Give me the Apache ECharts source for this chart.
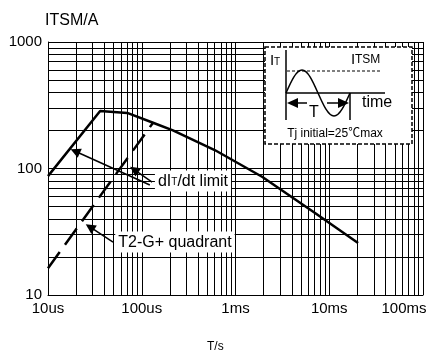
<!DOCTYPE html>
<html>
<head>
<meta charset="utf-8">
<script src="https://cdn.jsdelivr.net/npm/echarts@6/dist/echarts.min.js"></script>
<style>
  html, body { margin: 0; padding: 0; background: #fff; }
  #chart { width: 430px; height: 354px; }
</style>
</head>
<body>
<div id="chart"></div>
<script>
// Non-repetitive surge current ITSM versus pulse width T
const timeSec   = [1e-5, 3.6e-5, 7.0e-5, 1.32e-4, 2.15e-4, 6.0e-4, 1.92e-3, 7.05e-3, 2.03e-2];
const itsmLimit = [87, 285, 275, 230, 200, 140, 86, 44.5, 25.8];

// T2-G+ quadrant (dashed)
const quadrantTime = [1e-5, 1.32e-4];
const quadrantItsm = [16.3, 230];

// Axis labels, one per decade
const xTickLabels = ['10us', '100us', '1ms', '10ms', '100ms'];
const yTickLabels = ['10', '100', '1000'];

// Decades that get 2..9 minor grid lines
const xDecades = [1e-5, 1e-4, 1e-3, 1e-2];
const yDecades = [10, 100];
const minorSteps = [2, 3, 4, 5, 6, 7, 8, 9];

const X_MIN = 1e-5, X_MAX = 1e-1, Y_MIN = 10, Y_MAX = 1000;

const FONT = "'Liberation Sans', Arial, 'Noto Sans CJK SC', sans-serif";

const xMinor = [];
xDecades.forEach(d => minorSteps.forEach(k => xMinor.push(+(d * k).toPrecision(3))));
const yMinor = [];
yDecades.forEach(d => minorSteps.forEach(k => yMinor.push(d * k)));

const pairs = (xs, ys) => xs.map((x, i) => [x, ys[i]]);

const chart = echarts.init(document.getElementById('chart'), null, { renderer: 'canvas' });

const black = '#000';
const Z_TOP = 100;

// inset drawing elements, all sitting above the plot
const inset = [
  { type: 'rect', shape: { x: 0, y: 0, width: 147, height: 97 },
    style: { fill: '#fff', stroke: black, lineWidth: 1.5, lineDash: [4, 2] } },
  { type: 'line', shape: { x1: 21, y1: 3, x2: 21, y2: 73 },
    style: { stroke: black, lineWidth: 1.5 } },
  { type: 'line', shape: { x1: 85, y1: 46, x2: 85, y2: 73 },
    style: { stroke: black, lineWidth: 1.5 } },
  { type: 'line', shape: { x1: 21, y1: 46, x2: 120, y2: 46 },
    style: { stroke: black, lineWidth: 1.5 } },
  { type: 'line', shape: { x1: 22, y1: 24, x2: 117, y2: 24 },
    style: { stroke: black, lineWidth: 1.2, lineDash: [3, 2] } },
  { type: 'bezierCurve', shape: { x1: 21, y1: 46, cpx1: 26.22, cpy1: 34.22, cpx2: 31.21, cpy2: 23, x2: 37, y2: 23 },
    style: { stroke: black, lineWidth: 1.5, fill: null } },
  { type: 'bezierCurve', shape: { x1: 37, y1: 23, cpx1: 42.79, cpy1: 23, cpx2: 47.78, cpy2: 34.22, x2: 53, y2: 46 },
    style: { stroke: black, lineWidth: 1.5, fill: null } },
  { type: 'bezierCurve', shape: { x1: 53, y1: 46, cpx1: 58.22, cpy1: 57.78, cpx2: 63.21, cpy2: 69, x2: 69, y2: 69 },
    style: { stroke: black, lineWidth: 1.5, fill: null } },
  { type: 'bezierCurve', shape: { x1: 69, y1: 69, cpx1: 74.79, cpy1: 69, cpx2: 79.78, cpy2: 57.78, x2: 85, y2: 46 },
    style: { stroke: black, lineWidth: 1.5, fill: null } },
  // period arrows
  { type: 'polygon', shape: { points: [[22, 56], [33, 51], [33, 61]] }, style: { fill: black } },
  { type: 'line', shape: { x1: 33, y1: 56, x2: 42, y2: 56 }, style: { stroke: black, lineWidth: 1.5 } },
  { type: 'polygon', shape: { points: [[84, 56], [73, 51], [73, 61]] }, style: { fill: black } },
  { type: 'line', shape: { x1: 62, y1: 56, x2: 73, y2: 56 }, style: { stroke: black, lineWidth: 1.5 } },
  { type: 'text', style: { text: 'T', x: 49, y: 66, align: 'center', verticalAlign: 'middle',
      fill: black, fontSize: 16, fontFamily: FONT } },
  { type: 'text', style: { text: 'time', x: 97, y: 56, align: 'left', verticalAlign: 'middle',
      fill: black, fontSize: 16, fontFamily: FONT } },
  { type: 'text', style: { text: 'I', x: 5, y: 6, align: 'left', verticalAlign: 'top',
      fill: black, fontSize: 15, fontFamily: FONT } },
  { type: 'text', style: { text: 'T', x: 9, y: 10, align: 'left', verticalAlign: 'top',
      fill: black, fontSize: 10, fontFamily: FONT } },
  { type: 'text', style: { text: 'I', x: 86, y: 5, align: 'left', verticalAlign: 'top',
      fill: black, fontSize: 15, fontFamily: FONT } },
  { type: 'text', style: { text: 'TSM', x: 90, y: 7, align: 'left', verticalAlign: 'top',
      fill: black, fontSize: 12, fontFamily: FONT } },
  { type: 'text', style: { text: 'Tj initial=25℃max', x: 70, y: 87, align: 'center', verticalAlign: 'middle',
      fill: black, fontSize: 12, fontFamily: FONT } }
].map(el => Object.assign(el, { z: Z_TOP, silent: true }));

const lastXLabel = xTickLabels.length - 1;

const option = {
  animation: false,
  backgroundColor: '#fff',
  title: [
    { text: 'ITSM/A', left: 45, top: 13, padding: 0,
      textStyle: { color: black, fontSize: 16, fontWeight: 'normal', fontFamily: FONT } },
    { text: 'T/s', left: 207, top: 341, padding: 0,
      textStyle: { color: black, fontSize: 12, fontWeight: 'normal', fontFamily: FONT } }
  ],
  grid: { left: 48, right: 7, top: 42, bottom: 59, containLabel: false, outerBoundsMode: 'none' },
  xAxis: {
    type: 'log', logBase: 10, min: X_MIN, max: X_MAX,
    axisLine: { lineStyle: { color: black, width: 1 } },
    axisTick: { show: false },
    splitLine: { show: true, lineStyle: { color: black, width: 1 } },
    axisLabel: {
      color: black, fontSize: 15, fontFamily: FONT, margin: 6,
      formatter: v => {
        const i = Math.round(Math.log10(v)) + 5;
        // the last label is pushed left so it stays inside the canvas
        return i === lastXLabel ? xTickLabels[i] + '{pad| }' : xTickLabels[i];
      },
      rich: { pad: { width: 38, fontSize: 15 } }
    }
  },
  yAxis: {
    type: 'log', logBase: 10, min: Y_MIN, max: Y_MAX,
    axisLine: { lineStyle: { color: black, width: 1 } },
    axisTick: { show: false },
    splitLine: { show: true, lineStyle: { color: black, width: 1 } },
    axisLabel: {
      color: black, fontSize: 15, fontFamily: FONT, margin: 6,
      formatter: v => yTickLabels[Math.round(Math.log10(v)) - 1]
    }
  },
  series: [
    {
      // minor log grid
      name: 'grid', type: 'line', data: [], silent: true, z: 1,
      markLine: {
        silent: true, symbol: 'none', animation: false,
        label: { show: false },
        emphasis: { disabled: true },
        lineStyle: { color: black, width: 1, type: 'solid' },
        data: [
          ...xMinor.map(v => [{ coord: [v, Y_MIN] }, { coord: [v, Y_MAX] }]),
          ...yMinor.map(v => [{ coord: [X_MIN, v] }, { coord: [X_MAX, v] }])
        ]
      }
    },
    {
      name: 'T2-G+ quadrant', type: 'line', z: 3,
      data: pairs(quadrantTime, quadrantItsm),
      showSymbol: false, silent: true,
      lineStyle: { color: black, width: 2.5, type: [20, 9] }
    },
    {
      name: 'dIT/dt limit', type: 'line', z: 3,
      data: pairs(timeSec, itsmLimit),
      showSymbol: false, silent: true,
      lineStyle: { color: black, width: 2.5 }
    },
    {
      // callout arrows and labels
      name: 'notes', type: 'scatter', data: [], z: 5, silent: true,
      markLine: {
        silent: true, animation: false,
        symbol: ['none', 'triangle'], symbolSize: 10,
        label: { show: false },
        emphasis: { disabled: true },
        lineStyle: { color: black, width: 1.5, type: 'solid' },
        data: [
          [{ coord: [1.22e-4, 74.1] }, { coord: [1.95e-5, 137] }],
          [{ coord: [1.29e-4, 78.2] }, { coord: [8.3e-5, 98] }],
          [{ coord: [4.94e-5, 26.2] }, { coord: [2.8e-5, 34.5] }]
        ]
      },
      markPoint: {
        silent: true, animation: false,
        symbol: 'rect', symbolSize: 1,
        itemStyle: { color: 'rgba(0,0,0,0)' },
        label: {
          show: true, position: 'inside', color: black,
          fontSize: 16, fontFamily: FONT,
          backgroundColor: '#fff', padding: [3, 3, 2, 3],
          rich: {
            n: { fontSize: 16, fontFamily: FONT, color: black, verticalAlign: 'bottom' },
            s: { fontSize: 10, fontFamily: FONT, color: black, verticalAlign: 'bottom', padding: [0, 0, 2, 0] }
          }
        },
        data: [
          { coord: [3.52e-4, 79.6], label: { formatter: '{n|dI}{s|T}{n|/dt limit}' } },
          { coord: [2.26e-4, 26.2], label: { formatter: 'T2-G+ quadrant' } }
        ]
      }
    }
  ],
  graphic: [
    { type: 'group', x: 265, y: 47, z: Z_TOP, children: inset }
  ]
};

chart.setOption(option);
</script>
</body>
</html>
